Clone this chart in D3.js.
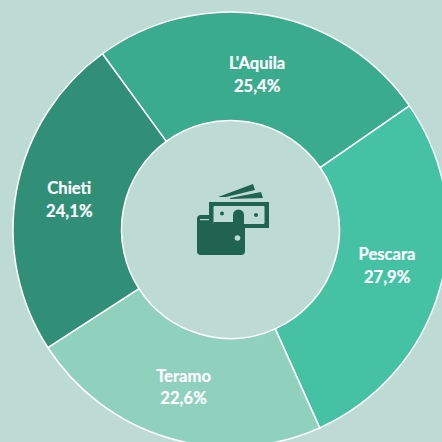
<!DOCTYPE html>
<html>
<head>
<meta charset="utf-8">
<script src="https://cdn.jsdelivr.net/npm/d3@7"></script>
<style>
html,body{margin:0;padding:0;background:#BDDBD4;overflow:hidden}
svg{display:block}
text{font-family:"Lato","Noto Sans",sans-serif;font-weight:700;font-size:16.6px;fill:#fff;text-anchor:middle;stroke:#fff;stroke-width:.2px}
</style>
</head>
<body>
<svg id="c" width="442" height="442"></svg>
<script>
const categories = ["L'Aquila", "Pescara", "Teramo", "Chieti"];
const values = [25.4, 27.9, 22.6, 24.1];
const valueLabels = ["25,4%", "27,9%", "22,6%", "24,1%"];
const colours = ["#3BAB8E", "#45C2A3", "#90D1BD", "#318F77"];

const W = 442, H = 442, cx = 230.5, cy = 229.5, rOuter = 217.5, rInner = 109;
const startDeg = -36.1;
const labelShift = [5, -8.5, 0, -1];

const svg = d3.select("#c");
svg.append("rect").attr("width", W).attr("height", H).attr("fill", "#BDDBD4");

const pie = d3.pie().sort(null).value(d => d)
  .startAngle(startDeg * Math.PI / 180)
  .endAngle((startDeg + 360) * Math.PI / 180);
const arc = d3.arc().innerRadius(rInner).outerRadius(rOuter);
const arcs = pie(values);
const g = svg.append("g").attr("transform", `translate(${cx},${cy})`);

g.selectAll("path.slice").data(arcs).join("path")
  .attr("class", "slice")
  .attr("d", arc)
  .attr("fill", (d, i) => colours[i])
  .attr("stroke", "#fff")
  .attr("stroke-width", 1.5)
  .attr("stroke-linejoin", "round");

const labels = g.selectAll("g.label").data(arcs).join("g")
  .attr("class", "label")
  .attr("transform", (d, i) => {
    const [x, y] = arc.centroid(d);
    return `translate(${x - 0.7},${y + labelShift[i]})`;
  });
labels.append("text").attr("y", -4.5).text((d, i) => categories[i]);
labels.append("text").attr("y", 18).text((d, i) => valueLabels[i]);

// wallet and banknotes icon
const dark = "#1F6350", bg = "#BDDBD4";
const ic = svg.append("g").attr("fill", dark);
ic.append("path").attr("d", "M218 197 L253 184 L255 190 L226 197 Z");
ic.append("path").attr("d", "M230 198 L261 192 L263 198 L230 199 Z");
ic.append("path").attr("d", "M201 215 H245 V251 Q245 255 241 255 H201 Q197 255 197 251 V219 Q197 215 201 215 Z");
ic.append("rect").attr("x", 209).attr("y", 202).attr("width", 60).attr("height", 26);
ic.append("rect").attr("x", 213.5).attr("y", 206).attr("width", 51).attr("height", 18).attr("rx", 1).attr("fill", bg);
ic.append("rect").attr("x", 213.5).attr("y", 222).attr("width", 26).attr("height", 2.2);
ic.append("circle").attr("cx", 238.5).attr("cy", 215).attr("r", 5.5);
ic.append("rect").attr("x", 233).attr("y", 215).attr("width", 11).attr("height", 9);
ic.append("circle").attr("cx", 222).attr("cy", 213.5).attr("r", 2);
ic.append("circle").attr("cx", 256).attr("cy", 215).attr("r", 2);
ic.append("rect").attr("x", 200).attr("y", 219).attr("width", 9).attr("height", 1.2).attr("fill", bg);
ic.append("circle").attr("cx", 237.5).attr("cy", 238).attr("r", 2.8).attr("fill", bg);
</script>
</body>
</html>
